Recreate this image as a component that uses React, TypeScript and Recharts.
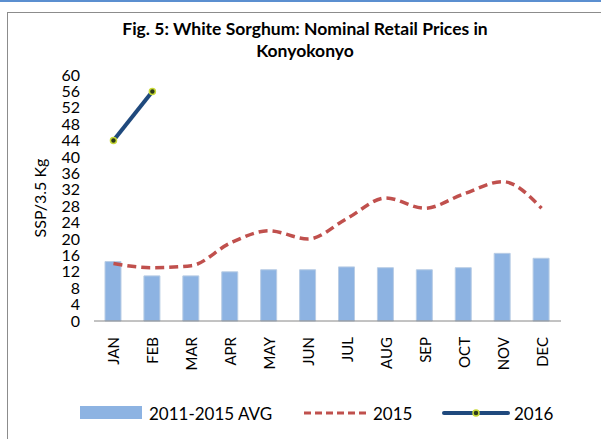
import { ComposedChart, Bar, Line, XAxis, YAxis } from "recharts";

const months = ["JAN", "FEB", "MAR", "APR", "MAY", "JUN", "JUL", "AUG", "SEP", "OCT", "NOV", "DEC"];
const avg2011to2015 = [14.5, 11, 11, 12, 12.5, 12.5, 13.2, 13, 12.5, 13, 16.5, 15.3];
const prices2015 = [14, 13, 13.5, 19, 22, 20, 25, 30, 27.5, 31, 34, 27.5];
const prices2016: (number | null)[] = [44, 56, null, null, null, null, null, null, null, null, null, null];
const yTicks = [0, 4, 8, 12, 16, 20, 24, 28, 32, 36, 40, 44, 48, 52, 56, 60];

const data = months.map((m, i) => ({
  month: m,
  avg: avg2011to2015[i],
  y2015: prices2015[i],
  y2016: prices2016[i],
}));

const FONT = "Lato, 'Open Sans', sans-serif";
const BAR_FILL = "#8DB3E2";
const RED = "#C0504D";
const NAVY = "#1F497D";

function MonthTick({ x, y, payload }: any) {
  return (
    <text
      x={x}
      y={y + 8}
      transform={`rotate(-90 ${x} ${y + 8})`}
      textAnchor="end"
      dominantBaseline="central"
      fontSize={15}
      fontFamily={FONT}
      fill="#000"
    >
      {payload.value}
    </text>
  );
}

function Dot2016({ cx, cy, value }: any) {
  if (value == null) return null;
  return <circle cx={cx} cy={cy} r={3} fill="#2b3a1a" stroke="#C8D936" strokeWidth={1.5} />;
}

function LegendRow() {
  const txt = { fontSize: 17, fontFamily: FONT, fill: "#000" };
  return (
    <svg width={601} height={30}>
      <rect x={80} y={8} width={62} height={13} fill={BAR_FILL} />
      <text x={149} y={15} dominantBaseline="central" {...txt}>2011-2015 AVG</text>
      <line x1={304} x2={367} y1={15} y2={15} stroke={RED} strokeWidth={3} strokeDasharray="7 4" />
      <text x={373} y={15} dominantBaseline="central" {...txt}>2015</text>
      <line x1={444} x2={508} y1={15} y2={15} stroke={NAVY} strokeWidth={4} strokeLinecap="round" />
      <circle cx={476} cy={15} r={3} fill="#2b3a1a" stroke="#C8D936" strokeWidth={1.5} />
      <text x={514} y={15} dominantBaseline="central" {...txt}>2016</text>
    </svg>
  );
}

export default function App() {
  return (
    <div style={{ position: "absolute", left: 0, top: 0, width: 601, height: 439, background: "#fff", overflow: "hidden" }}>
      <div style={{ position: "absolute", left: 0, top: 0, width: 601, height: 2, background: "#5B8FD0" }} />
      <div style={{ position: "absolute", left: 7, top: 12, width: 620, height: 460, border: "1px solid #8c8c8c" }} />
      <div
        style={{
          position: "absolute", left: 0, top: 18, width: 610, textAlign: "center",
          fontFamily: FONT, fontWeight: 700, fontSize: 17.5, lineHeight: "22px", color: "#000",
        }}
      >
        Fig. 5: White Sorghum: Nominal Retail Prices in<br />Konyokonyo
      </div>
      <div style={{ position: "absolute", left: 0, top: 0 }}>
        <ComposedChart width={601} height={439} data={data} margin={{ top: 75, right: 40, bottom: 0, left: 60 }}>
          <XAxis
            dataKey="month"
            tick={<MonthTick />}
            tickLine={false}
            axisLine={{ stroke: "#868686", strokeWidth: 1 }}
            interval={0}
            height={118}
          />
          <YAxis
            domain={[0, 60]}
            ticks={yTicks}
            interval={0}
            width={34}
            tickLine={false}
            axisLine={false}
            tick={{ fontSize: 16, fontFamily: FONT, fill: "#000" }}
            tickMargin={8}
            label={{
              value: "SSP/3.5 Kg",
              angle: -90,
              position: "insideLeft",
              offset: -20,
              style: { fontSize: 16, fontFamily: FONT, fill: "#000", textAnchor: "middle" },
            }}
          />
          <Bar dataKey="avg" name="2011-2015 AVG" fill={BAR_FILL} stroke="#B9CDE5" strokeWidth={1} barSize={16} isAnimationActive={false} />
          <Line
            dataKey="y2015"
            name="2015"
            type="monotone"
            stroke={RED}
            strokeWidth={3.5}
            strokeDasharray="9 5"
            dot={false}
            isAnimationActive={false}
          />
          <Line
            dataKey="y2016"
            name="2016"
            type="linear"
            stroke={NAVY}
            strokeWidth={4}
            dot={<Dot2016 />}
            connectNulls={false}
            isAnimationActive={false}
          />
        </ComposedChart>
      </div>
      <div style={{ position: "absolute", left: 0, top: 398 }}>
        <LegendRow />
      </div>
    </div>
  );
}
